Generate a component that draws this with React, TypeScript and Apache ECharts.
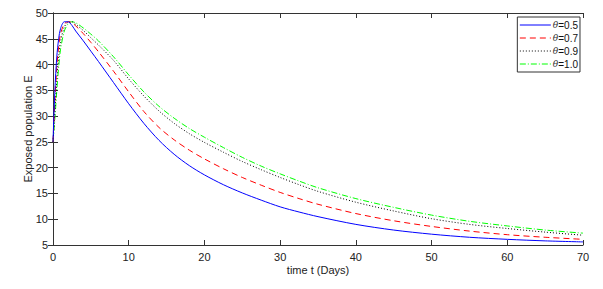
import React, { useEffect, useRef } from "react";
import * as echarts from "echarts";

const times = [0, 0.25, 0.5, 0.75, 1, 1.5, 2, 2.5, 3, 4, 5, 6, 8, 10, 12, 14, 16, 18, 20, 22.5, 25, 27.5, 30, 32.5, 35, 40, 45, 50, 55, 60, 65, 70];

const theta05 = [25, 35, 41.5, 45, 47, 48.3, 48.3, 47.6, 46.5, 44.6, 42.6, 40.6, 36.5, 32.4, 28.6, 25.3, 22.6, 20.4, 18.6, 16.7, 15.1, 13.7, 12.4, 11.4, 10.5, 9.0, 7.9, 7.1, 6.5, 6.1, 5.8, 5.6];
const theta07 = [25, 33, 39.5, 43.5, 46, 47.9, 48.3, 48.1, 47.5, 46.0, 44.3, 42.5, 38.7, 34.7, 30.9, 27.8, 25.4, 23.4, 21.7, 19.8, 18.1, 16.6, 15.2, 14.0, 12.9, 11.1, 9.7, 8.6, 7.7, 7.0, 6.5, 6.1];
const theta09 = [25, 31, 37, 41.5, 44.5, 47.3, 48.2, 48.3, 47.8, 46.6, 45.2, 43.8, 40.8, 37.2, 33.9, 31.0, 28.6, 26.6, 24.9, 23.0, 21.2, 19.6, 18.1, 16.7, 15.4, 13.3, 11.6, 10.1, 9.0, 8.2, 7.5, 6.9];
const theta10 = [25, 29.5, 35, 39.5, 43, 46.5, 47.9, 48.3, 48.1, 47.1, 45.9, 44.6, 41.5, 38.0, 34.7, 31.9, 29.6, 27.6, 25.9, 23.9, 22.0, 20.3, 18.8, 17.4, 16.1, 14.0, 12.3, 10.8, 9.6, 8.7, 7.9, 7.3];

const seriesNames = ["θ=0.5", "θ=0.7", "θ=0.9", "θ=1.0"];
const seriesValues = [theta05, theta07, theta09, theta10];
const xTicks = { min: 0, max: 70, interval: 10 };
const yTicks = { min: 5, max: 50, interval: 5 };

const colors = ["#0000ff", "#ff0000", "#000000", "#00ff00"];
const dashes: any[] = ["solid", [6, 4], [1, 2], [6, 2, 1, 2]];

export default function App() {
  const ref = useRef<HTMLDivElement>(null);
  useEffect(() => {
    if (!ref.current) return;
    const chart = echarts.init(ref.current, null, { renderer: "svg" });
    const font = "Liberation Sans, Arial, sans-serif";
    const axisLine = { show: true, lineStyle: { color: "#333", width: 1 } };
    const tick = { show: true, inside: true, length: 5, lineStyle: { color: "#333" } };
    chart.setOption({
      animation: false,
      backgroundColor: "#fff",
      grid: { left: 53, right: 20, top: 13, bottom: 44, containLabel: false },
      legend: {
        orient: "vertical",
        right: 23,
        top: 17,
        itemWidth: 31,
        itemHeight: 10,
        itemGap: 3,
        padding: [3, 2, 3, 2],
        borderColor: "#333",
        borderWidth: 1,
        backgroundColor: "#fff",
        itemStyle: { opacity: 0 },
        lineStyle: { width: 1 },
        data: seriesNames,
        formatter: (n: string) => `{i|θ}{n|${n.slice(1)}}`,
        textStyle: {
          fontFamily: font,
          fontSize: 10,
          lineHeight: 10,
          color: "#000",
          padding: [0, 0, 0, -3],
          rich: {
            i: { fontStyle: "italic", fontFamily: "DejaVu Serif", fontSize: 9, lineHeight: 10, color: "#333" },
            n: { fontFamily: font, fontSize: 10, lineHeight: 10, color: "#111" },
          },
        },
      },
      xAxis: [
        {
          type: "value",
          ...xTicks,
          position: "bottom",
          name: "time t (Days)",
          nameLocation: "middle",
          nameGap: 19,
          nameMoveOverlap: false,
          nameTextStyle: { fontFamily: font, fontSize: 11, color: "#222" },
          axisLine,
          axisTick: tick,
          axisLabel: { fontFamily: font, fontSize: 11, color: "#222", margin: 6 },
          splitLine: { show: false },
        },
        {
          type: "value",
          ...xTicks,
          position: "top",
          axisLine,
          axisTick: tick,
          axisLabel: { show: false },
          splitLine: { show: false },
        },
      ],
      yAxis: [
        {
          type: "value",
          ...yTicks,
          position: "left",
          name: "Exposed population E",
          nameLocation: "middle",
          nameGap: 20,
          nameMoveOverlap: false,
          nameTextStyle: { fontFamily: font, fontSize: 11, color: "#222" },
          axisLine,
          axisTick: tick,
          axisLabel: { fontFamily: font, fontSize: 11, color: "#222", margin: 5 },
          splitLine: { show: false },
        },
        {
          type: "value",
          ...yTicks,
          position: "right",
          axisLine,
          axisTick: tick,
          axisLabel: { show: false },
          splitLine: { show: false },
        },
      ],
      series: seriesValues.map((vals, i) => ({
        name: seriesNames[i],
        type: "line",
        smooth: 0.3,
        showSymbol: false,
        symbol: "none",
        xAxisIndex: 0,
        yAxisIndex: 0,
        data: times.map((t, k) => [t, vals[k]]),
        lineStyle: { color: colors[i], width: 1, type: dashes[i] },
        itemStyle: { color: colors[i] },
        z: 4 - i,
      })),
    });
    return () => chart.dispose();
  }, []);
  return (
    <div
      ref={ref}
      style={{ position: "fixed", left: 0, top: 0, width: 603, height: 289, background: "#fff" }}
    />
  );
}
